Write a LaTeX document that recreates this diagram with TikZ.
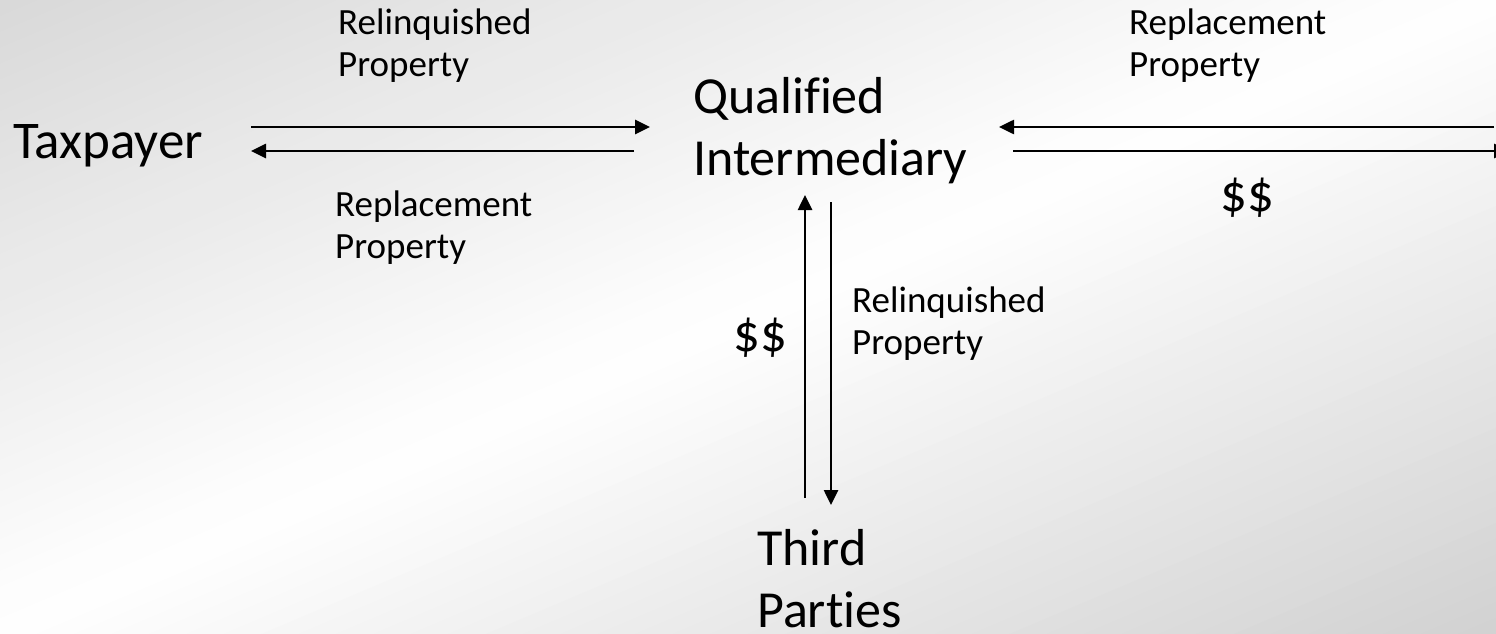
\documentclass[tikz,border=0pt]{standalone}
\usepackage{fontspec}
\setmainfont{Carlito}
\newcommand{\noliga}[1]{{\addfontfeature{Ligatures=NoCommon}#1}}
\usetikzlibrary{arrows.meta}
\begin{document}
\begin{tikzpicture}[x=1pt,y=-1pt,
  big/.style={font=\fontsize{52}{62}\selectfont, inner sep=0pt, anchor=base west, align=left},
  small/.style={font=\fontsize{37}{42}\selectfont, inner sep=0pt, anchor=base west, align=left},
  money/.style={font=\fontsize{53}{60}\selectfont, inner sep=0pt, anchor=base west},
  arr/.style={line width=2.6pt, -{Triangle[length=15pt,width=14pt]}}]
\useasboundingbox (0,0) rectangle (1496,634);
% background: diagonal gradient (grey corners top-left and bottom-right, white along the anti-diagonal)
\begin{scope}
  \clip (0,0) rectangle (1496,634);
  \begin{scope}[x=1496pt,y=-634pt]
    \foreach \i in {0,...,79}{
      \pgfmathsetmacro{\ca}{\i/40}
      \pgfmathsetmacro{\cb}{(\i+1)/40+0.01}
      \pgfmathsetmacro{\cm}{(\i+0.5)/40}
      \pgfmathsetmacro{\p}{\cm<1 ? 15*(1-\cm) : 18*(\cm-1)}
      \fill[black!\p] (\ca+2,-2) -- (\cb+2,-2) -- (\cb-2,2) -- (\ca-2,2) -- cycle;
    }
  \end{scope}
\end{scope}

\node[big, font=\fontsize{53}{62}\selectfont] (tp) at (13,158) {Taxpayer};
\node[big] (qi) at (693,175) {\noliga{Qualified}\\Intermediary};
\node[big] (tpa) at (757,627) {Third\\\noliga{Parties}};

\node[small] (l1) at (338,77) {Relinquished\\Property};
\node[small] (l2) at (335,258) {Replacement\\Property};
\node[small] (l3) at (1129,77) {Replacement\\Property};
\node[small] (l4) at (852,354) {Relinquished\\Property};
\node[money] (m1) at (1220,211) {\$\$};
\node[money] (m2) at (733,351) {\$\$};

\coordinate (a1s) at (251,127);  \coordinate (a1e) at (650,127);
\coordinate (a2s) at (634,151);  \coordinate (a2e) at (251,151);
\coordinate (a3s) at (1494,127); \coordinate (a3e) at (999,127);
\coordinate (a4s) at (1013,151); \coordinate (a4e) at (1509,151);
\coordinate (a5s) at (805,498);  \coordinate (a5e) at (805,195);
\coordinate (a6s) at (831,202);  \coordinate (a6e) at (831,505);

\draw[arr] (a1s) -- (a1e);
\draw[arr] (a2s) -- (a2e);
\draw[arr] (a3s) -- (a3e);
\draw[arr] (a4s) -- (a4e);
\draw[arr] (a5s) -- (a5e);
\draw[arr] (a6s) -- (a6e);
\end{tikzpicture}
\end{document}
